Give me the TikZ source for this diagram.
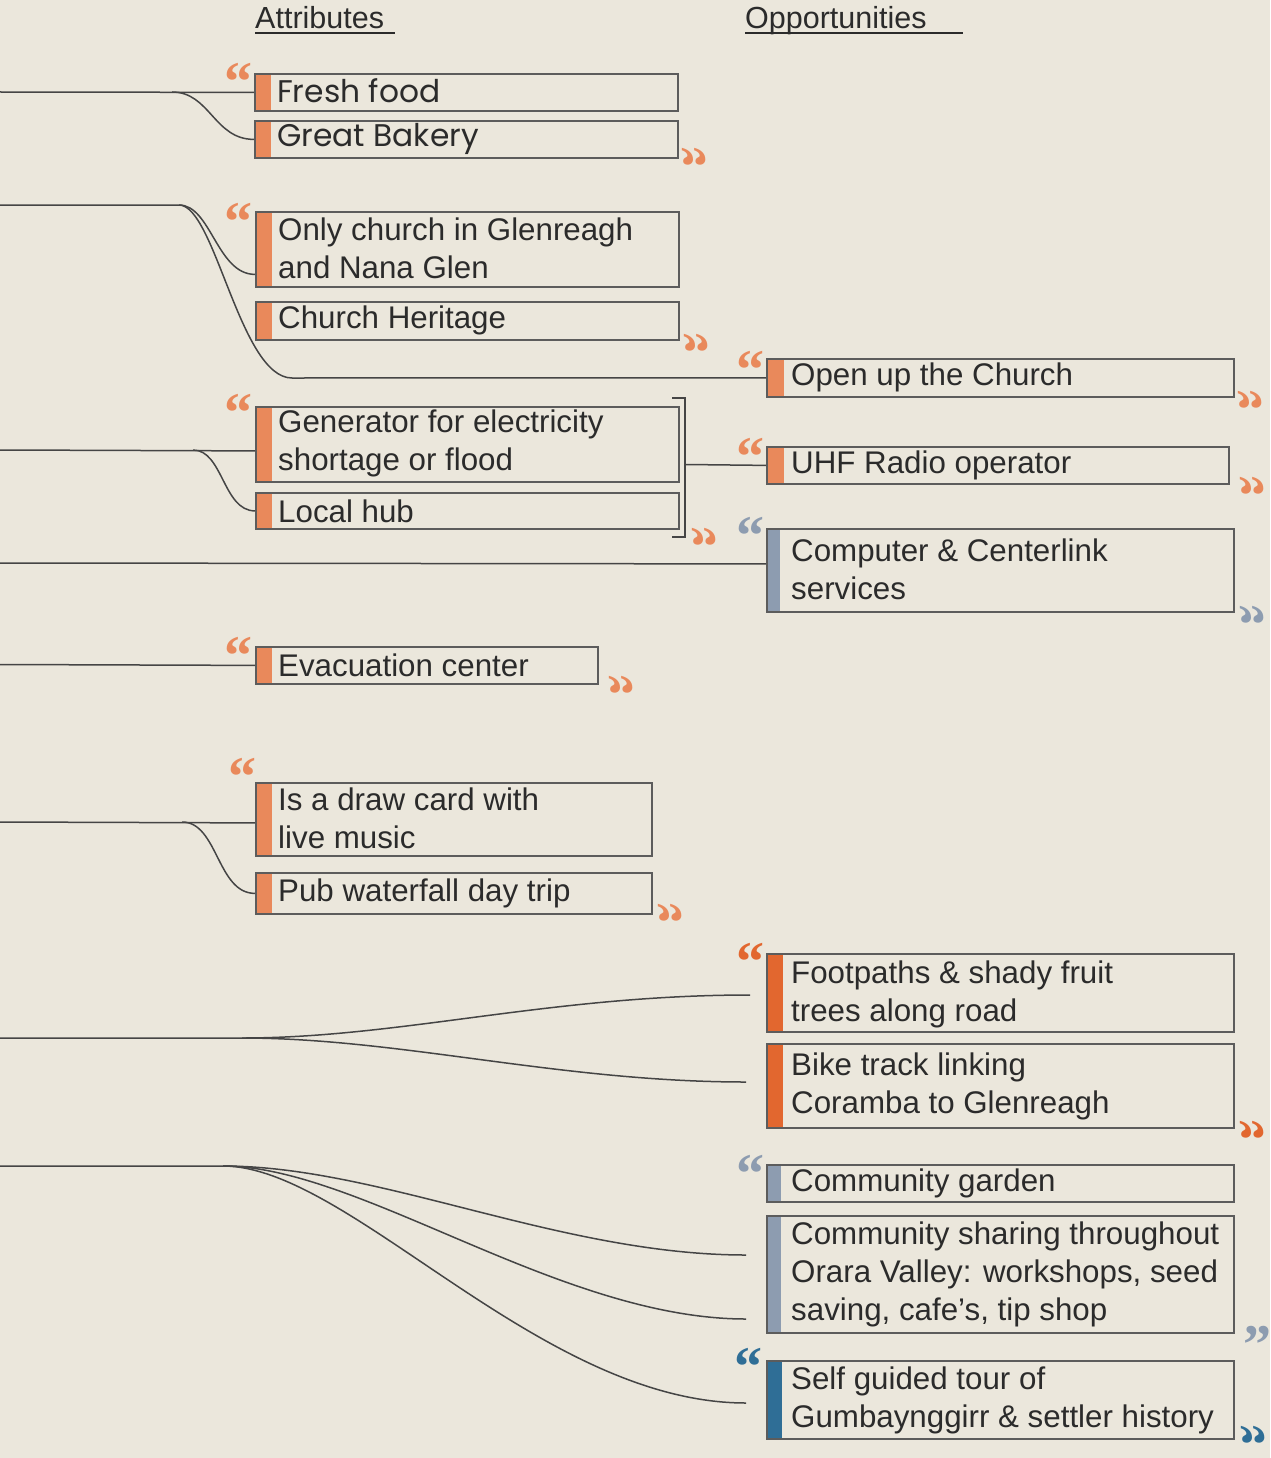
\documentclass[tikz,border=0pt]{standalone}
\usepackage{graphicx}
\usepackage{fontspec}
\setmainfont{Liberation Sans}
\newfontfamily\pop{Poppins}
\newfontfamily\qfont{Liberation Serif}
\definecolor{bgc}{HTML}{EBE7DC}
\definecolor{orA}{HTML}{E9895B}
\definecolor{orB}{HTML}{E2672F}
\definecolor{gry}{HTML}{8D9CB0}
\definecolor{blu}{HTML}{2F6E96}
\definecolor{boxc}{HTML}{5C5C5C}
\definecolor{txtc}{HTML}{2B2B2B}
\definecolor{lnc}{HTML}{454545}
\newcommand\qopen{“}
\newcommand\qclose{\reflectbox{“}}
\begin{document}
\begin{tikzpicture}[x=1pt,y=-1pt,
  box/.style 2 args={draw=boxc, line width=1.8pt, rectangle, inner sep=0pt, anchor=north west,
    path picture={\fill[#1] (path picture bounding box.north west) rectangle ([xshift=#2]path picture bounding box.south west);}},
  txt/.style={anchor=west, inner sep=0pt, align=left, text=txtc, font=\fontsize{31.3}{38}\selectfont},
  ptxt/.style={txt, font=\pop\fontsize{31.3}{36}\selectfont},
  hdr/.style={anchor=base west, inner sep=0pt, text=txtc, font=\fontsize{30.5}{36}\selectfont},
  q/.style={anchor=north, inner sep=0pt, font=\qfont\bfseries\fontsize{56}{56}\selectfont},
  conn/.style={draw=lnc, line width=1.5pt},
  uline/.style={draw=txtc, line width=2.6pt}
]
\fill[bgc] (0,0) rectangle (1270,1458);
\useasboundingbox (0,0) rectangle (1270,1458);

% headers
\node[hdr] (hatt) at (255,29) {Attributes};
\node[hdr] (hopp) at (745,29) {Opportunities};
\draw[uline] (255,33) -- (395,33);
\draw[uline] (745,33) -- (963,33);

% attribute boxes
\node[box={orA}{16pt}, minimum width=423pt, minimum height=37pt] (ff) at (254,73) {};
\node[ptxt] (fft) at ([xshift=23pt,yshift=1.5pt]ff.west) {Fresh food};
\node[box={orA}{16pt}, minimum width=423pt, minimum height=37pt] (gb) at (254,120) {};
\node[ptxt] (gbt) at ([xshift=23pt]gb.west) {Great Bakery};

\node[box={orA}{16pt}, minimum width=423pt, minimum height=75pt] (oc) at (255,211) {};
\node[txt] (oct) at ([xshift=23pt,yshift=1pt]oc.west) {Only church in Glenreagh\\and Nana Glen};
\node[box={orA}{16pt}, minimum width=423pt, minimum height=38pt] (ch) at (255,301) {};
\node[txt] (cht) at ([xshift=23pt]ch.west) {Church Heritage};

\node[box={orA}{16pt}, minimum width=423pt, minimum height=75pt] (gen) at (255,406) {};
\node[txt] (gent) at ([xshift=23pt,yshift=1pt]gen.west) {Generator for electricity\\shortage or flood};
\node[box={orA}{16pt}, minimum width=423pt, minimum height=36pt] (lh) at (255,492) {};
\node[txt] (lht) at ([xshift=23pt]lh.west) {Local hub};

\node[box={orA}{16pt}, minimum width=342pt, minimum height=37pt] (ev) at (255,646) {};
\node[txt] (evt) at ([xshift=23pt]ev.west) {Evacuation center};

\node[box={orA}{16pt}, minimum width=396pt, minimum height=73pt] (dc) at (255,782) {};
\node[txt] (dct) at ([xshift=23pt,yshift=1pt]dc.west) {Is a draw card with\\live music};
\node[box={orA}{16pt}, minimum width=396pt, minimum height=41pt] (pub) at (255,872) {};
\node[txt] (pubt) at ([xshift=23pt]pub.west) {Pub waterfall day trip};

% opportunity boxes
\node[box={orA}{17pt}, minimum width=467pt, minimum height=38pt] (opc) at (766,358) {};
\node[txt] (opct) at ([xshift=25pt]opc.west) {Open up the Church};
\node[box={orA}{17pt}, minimum width=462pt, minimum height=37pt] (uhf) at (766,446) {};
\node[txt] (uhft) at ([xshift=25pt]uhf.west) {UHF Radio operator};
\node[box={gry}{13pt}, minimum width=467pt, minimum height=83pt] (cmp) at (766,528) {};
\node[txt] (cmpt) at ([xshift=25pt,yshift=1pt]cmp.west) {Computer \& Centerlink\\services};

\node[box={orB}{16pt}, minimum width=467pt, minimum height=78pt] (fp) at (766,953) {};
\node[txt] (fpt) at ([xshift=25pt,yshift=-1pt]fp.west) {Footpaths \& shady fruit\\trees along road};
\node[box={orB}{16pt}, minimum width=467pt, minimum height=84pt] (bk) at (766,1043) {};
\node[txt] (bkt) at ([xshift=25pt]bk.west) {Bike track linking\\Coramba to Glenreagh};

\node[box={gry}{14pt}, minimum width=467pt, minimum height=37pt] (cg) at (766,1164) {};
\node[txt] (cgt) at ([xshift=25pt]cg.west) {Community garden};
\node[box={gry}{14pt}, minimum width=467pt, minimum height=117pt] (cs) at (766,1215) {};
\node[txt] (cst) at ([xshift=25pt]cs.west) {Community sharing throughout\\Orara Valley: workshops, seed\\saving, cafe’s, tip shop};
\node[box={blu}{15pt}, minimum width=467pt, minimum height=78pt] (sg) at (766,1360) {};
\node[txt] (sgt) at ([xshift=25pt]sg.west) {Self guided tour of\\Gumbaynggirr \& settler history};

% quotes
\node[q, text=orA] (q1) at (238,63) {\qopen};
\node[q, text=orA] (q2) at (694,148) {\qclose};
\node[q, text=orA] (q3) at (238,203) {\qopen};
\node[q, text=orA] (q4) at (696,334) {\qclose};
\node[q, text=orA] (q5) at (750,351) {\qopen};
\node[q, text=orA] (q6) at (1250,391) {\qclose};
\node[q, text=orA] (q7) at (238,394) {\qopen};
\node[q, text=orA] (q8) at (704,528) {\qclose};
\node[q, text=orA] (q9) at (750,438) {\qopen};
\node[q, text=orA] (q10) at (1252,477) {\qclose};
\node[q, text=gry] (q11) at (750,517) {\qopen};
\node[q, text=gry] (q12) at (1252,606) {\qclose};
\node[q, text=orA] (q13) at (238,637) {\qopen};
\node[q, text=orA] (q14) at (621,676) {\qclose};
\node[q, text=orA] (q15) at (242,758) {\qopen};
\node[q, text=orA] (q16) at (670,904) {\qclose};
\node[q, text=orB] (q17) at (750,943) {\qopen};
\node[q, text=orB] (q18) at (1252,1121) {\qclose};
\node[q, text=gry] (q19) at (750,1155) {\qopen};
\node[q, text=gry] (q20) at (1257,1326) {”};
\node[q, text=blu] (q21) at (748,1348) {\qopen};
\node[q, text=blu] (q22) at (1253,1426) {\qclose};

% bracket
\draw[conn] (672,398) -- (685,398) -- (685,537) -- (672,537);

% free-end coordinates
\coordinate (s1) at (0,92);
\coordinate (b1) at (172,92);
\coordinate (s2) at (0,205);
\coordinate (b2) at (179,205);
\coordinate (k2) at (292,378);
\coordinate (s3) at (0,450);
\coordinate (b3) at (193,450);
\coordinate (br) at (686,464.5);
\coordinate (s4) at (0,563);
\coordinate (s5) at (0,664.5);
\coordinate (s6) at (0,822);
\coordinate (b6) at (182,822);
\coordinate (s7) at (0,1038);
\coordinate (b7) at (242,1038);
\coordinate (e7a) at (750,995);
\coordinate (e7b) at (746,1082);
\coordinate (s8) at (0,1166);
\coordinate (b8) at (223,1166);
\coordinate (e8a) at (746,1255);
\coordinate (e8b) at (746,1319);
\coordinate (e8c) at (746,1403);

% connectors
\draw[conn] (s1) -- (ff.west);
\draw[conn] (b1) .. controls +(38,0) and +(-40,0) .. (gb.west);
\draw[conn] (s2) -- (b2) .. controls +(32,0) and +(-38,0) .. ([yshift=-25pt]oc.west);
\draw[conn] (b2) .. controls +(36,0) and +(-52,0) .. (k2) -- (opc.west);
\draw[conn] (s3) -- ([yshift=-6.5pt]gen.west);
\draw[conn] (b3) .. controls +(30,0) and +(-32,0) .. (lh.west);
\draw[conn] (br) -- (uhf.west);
\draw[conn] (s4) -- ([yshift=6.5pt]cmp.west);
\draw[conn] (s5) -- (ev.west);
\draw[conn] (s6) -- ([yshift=-3.5pt]dc.west);
\draw[conn] (b6) .. controls +(36,0) and +(-38,0) .. (pub.west);
\draw[conn] (s7) -- (b7) .. controls +(158,0) and +(-200,0) .. (e7a);
\draw[conn] (b7) .. controls +(158,0) and +(-186,0) .. (e7b);
\draw[conn] (s8) -- (b8) .. controls +(157,0) and +(-186,0) .. (e8a);
\draw[conn] (b8) .. controls +(137,0) and +(-186,0) .. (e8b);
\draw[conn] (b8) .. controls +(127,0) and +(-206,0) .. (e8c);
\end{tikzpicture}
\end{document}
